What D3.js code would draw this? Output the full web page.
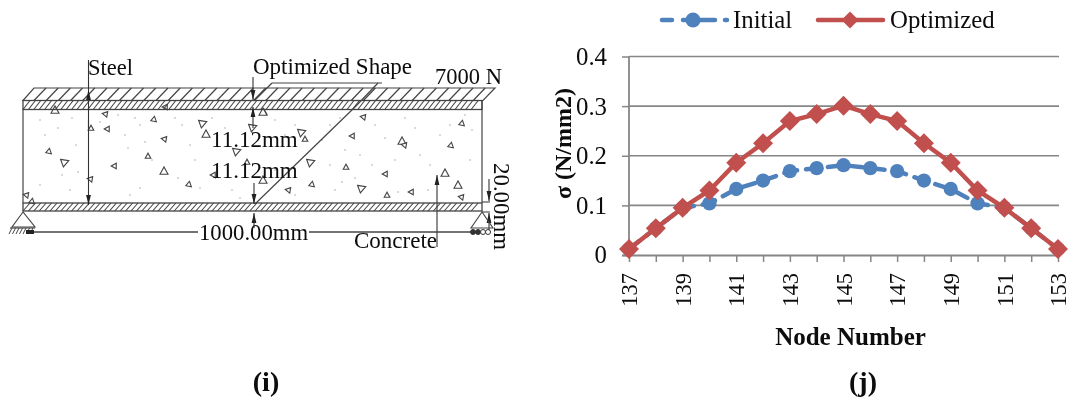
<!DOCTYPE html>
<html><head><meta charset="utf-8">
<script src="https://cdn.jsdelivr.net/npm/d3@7"></script>
<style>html,body{margin:0;padding:0;background:#fff}svg{display:block}text{font-family:"Liberation Serif",serif;fill:#0a0a0a}</style>
</head><body><div id="chart"></div>
<script>
const nodes = [137,138,139,140,141,142,143,144,145,146,147,148,149,150,151,152,153];
const initialValues = [0.012,0.054,0.095,0.104,0.133,0.150,0.169,0.175,0.181,0.175,0.169,0.150,0.133,0.104,0.095,0.054,0.012];
const optimizedValues = [0.012,0.054,0.095,0.130,0.186,0.225,0.270,0.284,0.301,0.284,0.270,0.225,0.186,0.130,0.095,0.054,0.012];
const yTickValues = [0,0.1,0.2,0.3,0.4];
const seriesNames = ["Initial","Optimized"];
const seriesColors = ["#4F81BD","#C0504D"];
// Sketch aggregate symbols and speckle
const aggregates = [[55,110],[105,114],[154,119],[203,123],[91,128],[107,129],[206,134],[164,139],[49,151],[65,162],[148,156],[114,166],[164,171],[90,179],[189,184],[237,151],[247,162],[213,175],[263,180],[26,195],[32,201],[253,127],[264,112],[165,107],
[263,112],[363,117],[462,123],[302,132],[305,139],[352,136],[402,141],[404,145],[451,145],[311,162],[346,167],[385,174],[445,173],[288,190],[312,184],[362,188],[387,195],[411,192],[458,185],[461,197]];
const specks = [[40,120],[45,135],[58,128],[72,118],[76,145],[62,175],[40,185],[70,190],[78,172],[100,122],[118,115],[125,135],[128,148],[135,118],[140,125],[145,142],[152,160],[140,188],[130,195],[175,118],[182,125],[190,145],[195,160],[178,178],[200,188],[212,118],[225,128],[232,190],[240,198],[275,120],[285,135],[295,125],[275,170],[295,195],[330,125],[340,118],[345,150],[360,155],[375,125],[385,138],[395,160],[405,118],[415,128],[420,155],[430,165],[440,135],[450,125],[465,115],[470,160],[335,190],[342,182],[355,178],[372,165],[398,192],[428,190],[472,130],[330,165],[322,140]];
const W = 1073, H = 402;
const svg = d3.select("#chart").append("svg").attr("width",W).attr("height",H);
const defs = svg.append("defs");
defs.append("filter").attr("id","soft").attr("x","-2%").attr("y","-2%").attr("width","104%").attr("height","104%")
  .append("feGaussianBlur").attr("stdDeviation",0.42);
defs.append("marker").attr("id","ah").attr("viewBox","0 0 10 6").attr("refX",10).attr("refY",3)
  .attr("markerWidth",10).attr("markerHeight",6).attr("markerUnits","userSpaceOnUse").attr("orient","auto")
  .append("path").attr("d","M0,0.6L10,3L0,5.4Z").attr("fill","#222");
const root = svg.append("g").attr("filter","url(#soft)");
root.append("rect").attr("width",W).attr("height",H).attr("fill","#fff");

/* ---------- right chart ---------- */
const x = d3.scalePoint().domain(nodes).range([629,1058]);
const y = d3.scaleLinear().domain([0,0.4]).range([255,56.5]);
const gridColor = "#868686";
const chart = root.append("g");
chart.append("g").selectAll("line").data(yTickValues.slice(1)).join("line")
  .attr("x1",629).attr("x2",1059).attr("y1",d=>y(d)).attr("y2",d=>y(d))
  .attr("stroke",gridColor).attr("stroke-width",1.6);
const yAxis = chart.append("g").attr("transform","translate(629,0)")
  .call(d3.axisLeft(y).tickValues(yTickValues).tickSize(7).tickPadding(15).tickFormat(d=>d===0?"0":d3.format(".1f")(d)));
const xAxis = chart.append("g").attr("transform","translate(0,255)")
  .call(d3.axisBottom(x).tickSize(7).tickFormat(d=>(d%2===1)?d:""));
[yAxis,xAxis].forEach(a=>{a.selectAll("path.domain").attr("stroke",gridColor).attr("stroke-width",1.8);
  a.selectAll(".tick line").attr("stroke",gridColor).attr("stroke-width",1.5);});
yAxis.selectAll("path.domain").attr("d","M0,56.5V255");
xAxis.selectAll("path.domain").attr("d","M622,0.5H1059");
yAxis.selectAll("text").attr("font-size",24.8).attr("font-family","Liberation Serif").attr("fill","#0a0a0a");
xAxis.selectAll("text").attr("font-size",22.5).attr("font-family","Liberation Serif").attr("fill","#0a0a0a")
  .attr("text-anchor","end").attr("dy","0.34em").attr("dx",0)
  .attr("transform","translate(0,18) rotate(-90)").attr("x",0).attr("y",0);

const line = d3.line().x((d,i)=>x(nodes[i])).y(d=>y(d));
chart.append("path").datum(initialValues).attr("d",line).attr("fill","none").attr("stroke",seriesColors[0])
  .attr("stroke-width",4.5).attr("stroke-linecap","round").attr("stroke-dasharray","13 9");
const circleSym = d3.symbol().type(d3.symbolCircle);
const squareSym = d3.symbol().type(d3.symbolSquare);
chart.append("g").selectAll("path").data(initialValues).join("path")
  .attr("d",circleSym.size(160)()).attr("fill",seriesColors[0])
  .attr("transform",(d,i)=>`translate(${x(nodes[i])},${y(d)})`);
chart.append("path").datum(optimizedValues).attr("d",line).attr("fill","none").attr("stroke",seriesColors[1]).attr("stroke-width",4.5);
chart.append("g").selectAll("path").data(optimizedValues).join("path")
  .attr("d",squareSym.size(200)()).attr("fill",seriesColors[1])
  .attr("transform",(d,i)=>`translate(${x(nodes[i])},${y(d)}) rotate(45)`);

// legend
const lg = chart.append("g");
lg.append("line").attr("x1",662).attr("x2",727).attr("y1",20).attr("y2",20).attr("stroke",seriesColors[0])
  .attr("stroke-width",4.5).attr("stroke-linecap","round").attr("stroke-dasharray","10 11 32 10 6 40");
lg.append("path").attr("d",circleSym.size(177)()).attr("fill",seriesColors[0]).attr("transform","translate(693,20)");
lg.append("text").attr("x",733).attr("y",28).attr("font-size",24.8).text(seriesNames[0]);
lg.append("line").attr("x1",818).attr("x2",883).attr("y1",20).attr("y2",20).attr("stroke",seriesColors[1]).attr("stroke-width",4.5).attr("stroke-linecap","round");
lg.append("path").attr("d",squareSym.size(145)()).attr("fill",seriesColors[1]).attr("transform","translate(850,20) rotate(45)");
lg.append("text").attr("x",890).attr("y",28).attr("font-size",24.8).text(seriesNames[1]);

chart.append("text").attr("x",850.5).attr("y",345).attr("text-anchor","middle").attr("font-size",25).attr("font-weight","bold").text("Node Number");
chart.append("text").attr("transform","translate(571,143.5) rotate(-90)").attr("text-anchor","middle").attr("font-size",24).attr("font-weight","bold").text("σ (N/mm2)");
root.append("text").attr("x",863).attr("y",391).attr("text-anchor","middle").attr("font-size",28).attr("font-weight","bold").text("(j)");
root.append("text").attr("x",266).attr("y",391).attr("text-anchor","middle").attr("font-size",28).attr("font-weight","bold").text("(i)");

/* ---------- left sketch ---------- */
const sk = root.append("g");
const ink = "#444";
const L = (x1,y1,x2,y2,w=1,c=ink,arrow=false)=>{const l=sk.append("line").attr("x1",x1).attr("y1",y1).attr("x2",x2).attr("y2",y2).attr("stroke",c).attr("stroke-width",w);if(arrow)l.attr("marker-end","url(#ah)");return l;};
// speckle + aggregates
sk.append("g").selectAll("circle").data(specks).join("circle").attr("cx",d=>d[0]).attr("cy",d=>d[1]).attr("r",0.8).attr("fill","#aaa");
sk.append("g").selectAll("path").data(aggregates).join("path")
  .attr("d",(d,i)=>{const r=i%3===0?4:2.8;return `M${-r},${r*0.8}L0,${-r}L${r},${r*0.8}Z`;})
  .attr("transform",(d,i)=>`translate(${d[0]},${d[1]}) rotate(${[0,-80,10,70,0,-90][i%6]})`)
  .attr("fill","#fff").attr("stroke","#444").attr("stroke-width",1.1);
// load band
sk.append("path").attr("d","M34,88H495L483,100.5H23Z").attr("fill","none").attr("stroke",ink).attr("stroke-width",1.2);
d3.range(46,495,12.2).forEach(v=>L(v,88,v-12,100.5,1.2));
// steel top/bottom bands
[[100.5,109.5],[203,211]].forEach(([a,b])=>{
  sk.append("rect").attr("x",23).attr("y",a).attr("width",459).attr("height",b-a).attr("fill","none").attr("stroke",ink).attr("stroke-width",1.3);
  d3.range(30,482,5.4).forEach(v=>L(v,a,v-7,b,1.1,"#444"));
});
L(23,109.5,23,203,1.2);L(482,100.5,482,203,1.2);
// leader to shape
L(255,204,355,107,1.2);L(355,107,378,83,1.2);L(272,83,382,83,1.2);L(255,100,272,83,1.2);
// dimension arrows
L(88.5,60,88.5,90,1.1,"#333",false);L(88.5,130,88.5,90,1.1,"#333",true);L(88.5,120,88.5,205,1.1,"#333",true);
L(253,77,253,100,1.1,"#333",true);L(253,128,253,107,1.1,"#333",true);
L(254,183,254,204,1.1,"#333",true);L(254,228,254,213,1.1,"#333",true);
L(437,247,437,175,1.1,"#333",true);
L(482,202,490,202,1.1);L(482,212,490,212,1.1);L(489,179,489,201,1.1,"#333",true);L(489,233,489,213,1.1,"#333",true);
// dimension line
L(30,232,198,232,1.4);L(309,232,476,232,1.4);
// supports
sk.append("path").attr("d","M23,212L12,227H35Z").attr("fill","none").attr("stroke",ink).attr("stroke-width",1.1);
L(10,228,35,228,1.1);d3.range(12,36,3.5).forEach(v=>L(v,228,v-3,234,1));
sk.append("rect").attr("x",26).attr("y",230).attr("width",8).attr("height",4).attr("fill","#222");
sk.append("path").attr("d","M482,212L471,228H493Z").attr("fill","none").attr("stroke",ink).attr("stroke-width",1.1);
sk.append("g").selectAll("circle").data([473,478,483,488]).join("circle").attr("cx",d=>d).attr("cy",232).attr("r",2.5)
  .attr("fill",(d,i)=>i<2?"#333":"#fff").attr("stroke","#333").attr("stroke-width",1);
// labels
const T=(s,xx,yy,fs)=>sk.append("text").attr("x",xx).attr("y",yy).attr("font-size",fs).text(s);
T("Steel",88,75,22.5);
T("Optimized Shape",253,74,23);
T("7000 N",435,84,22.5);
T("11.12mm",211,147,23);
T("11.12mm",211,178,23);
T("1000.00mm",199,240,22.7);
T("Concrete",354,248,23);
sk.append("text").attr("transform","translate(494,163) rotate(90)").attr("font-size",22.9).text("20.00mm");
</script></body></html>
